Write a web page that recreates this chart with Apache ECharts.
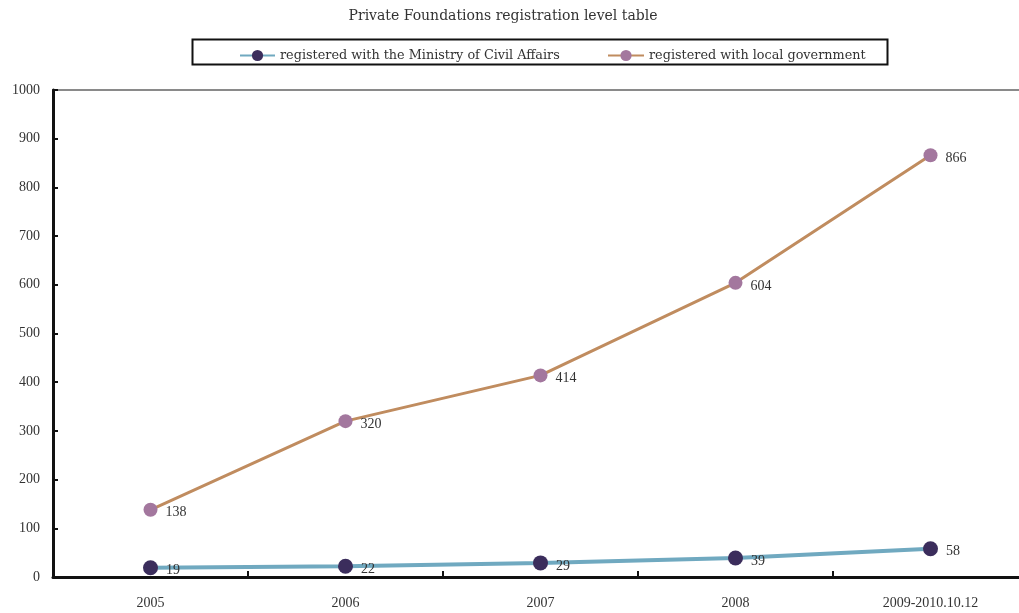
<!DOCTYPE html>
<html>
<head>
<meta charset="utf-8">
<script src="https://cdn.jsdelivr.net/npm/echarts@6/dist/echarts.min.js"></script>
<style>
  html, body { margin: 0; padding: 0; background: #fff; }
  #chart { width: 1019px; height: 613px; }
</style>
</head>
<body>
<div id="chart"></div>
<script>
// Registration counts of private foundations by year
const categories = ['2005', '2006', '2007', '2008', '2009-2010.10.12'];
const ministrySeries = [19, 22, 29, 39, 58];
const localSeries = [138, 320, 414, 604, 866];
const yTicks = { min: 0, max: 1000, interval: 100 };

const titleText = 'Private Foundations registration level table';
const ministryName = 'registered with the Ministry of Civil Affairs';
const localName = 'registered with local government';

const TEXT_FONT = '"DejaVu Serif", "Liberation Serif", serif';
const NUM_FONT = '"Liberation Serif", "DejaVu Serif", serif';

const chart = echarts.init(document.getElementById('chart'), null, { renderer: 'canvas' });

const labelStyle = {
  show: true,
  position: 'right',
  distance: 8,
  offset: [0, 3],
  color: '#333',
  fontFamily: NUM_FONT,
  fontSize: 14
};

const legendText = { fontFamily: TEXT_FONT, fontSize: 12.8, color: '#333' };

chart.setOption({
  animation: false,
  backgroundColor: '#fff',
  title: {
    text: titleText,
    left: 498,
    top: 4,
    textAlign: 'center',
    textStyle: { fontFamily: TEXT_FONT, fontSize: 14, fontWeight: 'normal', color: '#333' }
  },
  graphic: [{
    type: 'rect',
    shape: { x: 192.5, y: 39.5, width: 695, height: 25 },
    style: { fill: '#fff', stroke: '#111', lineWidth: 2 },
    z: 0
  }],
  legend: [
    {
      left: 234, top: 44, itemWidth: 35, itemHeight: 14,
      textStyle: legendText, data: [ministryName], z: 5
    },
    {
      left: 602, top: 44, itemWidth: 36, itemHeight: 14,
      textStyle: legendText, data: [localName], z: 5
    }
  ],
  grid: {
    left: 53,
    width: 975,
    top: 90,
    bottom: 36,
    outerBoundsMode: 'none',
    containLabel: false,
    show: true,
    borderColor: '#8a8a8a',
    borderWidth: 2,
    backgroundColor: 'transparent'
  },
  xAxis: {
    type: 'category',
    data: categories,
    boundaryGap: true,
    axisLine: { show: true, lineStyle: { color: '#111', width: 3 } },
    axisTick: { show: true, inside: true, length: 6, lineStyle: { color: '#111', width: 2 } },
    axisLabel: { margin: 19, color: '#333', fontFamily: NUM_FONT, fontSize: 14 },
    splitLine: { show: false }
  },
  yAxis: {
    type: 'value',
    min: yTicks.min,
    max: yTicks.max,
    interval: yTicks.interval,
    axisLine: { show: true, lineStyle: { color: '#111', width: 3 } },
    axisTick: { show: true, inside: true, length: 5, lineStyle: { color: '#111', width: 2 } },
    axisLabel: {
      margin: 13, color: '#333', fontFamily: NUM_FONT, fontSize: 14,
      formatter: (v) => String(v)
    },
    splitLine: { show: false }
  },
  series: [
    {
      name: ministryName,
      type: 'line',
      data: ministrySeries,
      symbol: 'circle',
      symbolSize: 15,
      lineStyle: { color: '#70a9c0', width: 4 },
      itemStyle: { color: '#3b2d5c' },
      label: labelStyle,
      z: 3
    },
    {
      name: localName,
      type: 'line',
      data: localSeries,
      symbol: 'circle',
      symbolSize: 14,
      lineStyle: { color: '#c08c5f', width: 3 },
      itemStyle: { color: '#a3779e' },
      label: labelStyle,
      z: 3
    }
  ]
});
</script>
</body>
</html>
